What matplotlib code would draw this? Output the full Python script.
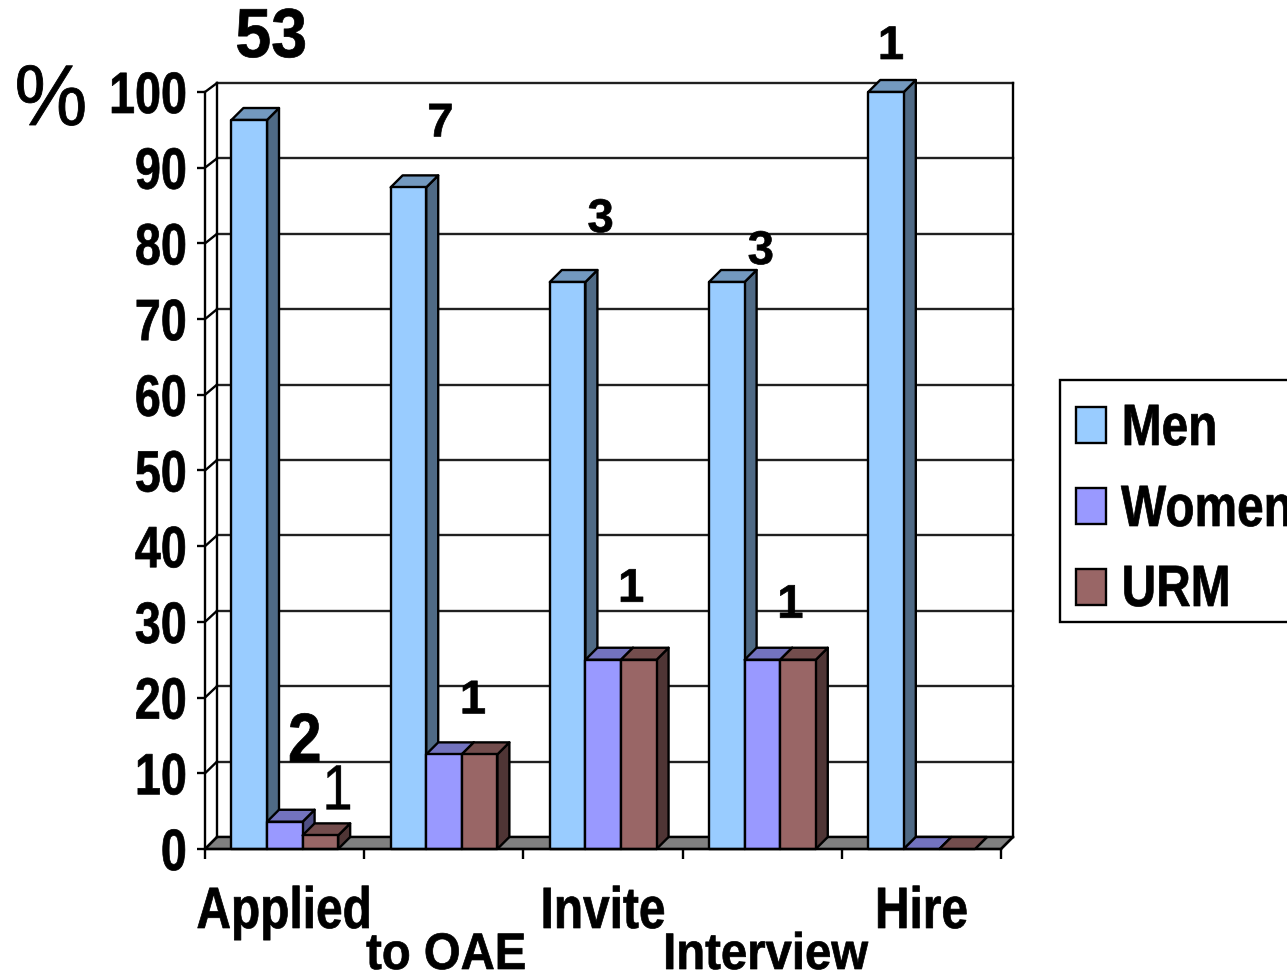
import matplotlib
matplotlib.use("Agg")
import matplotlib.pyplot as plt
from matplotlib.patches import Polygon, Rectangle
from matplotlib.patheffects import AbstractPathEffect
from matplotlib.transforms import Affine2D, blended_transform_factory

plt.rcParams['font.family'] = ['Liberation Sans', 'DejaVu Sans']

stages = ["Applied", "to OAE", "Invite", "Interview", "Hire"]
series_names = ["Men", "Women", "URM"]
men = [96.3, 87.4, 74.9, 74.9, 100]
women = [3.6, 12.5, 25, 25, 0]
urm = [1.8, 12.5, 25, 25, 0]

# head counts printed above the bars
men_counts = ["53", "7", "3", "3", "1"]
women_counts = ["2", "1", "1", "1", None]
urm_counts = ["1", None, None, None, None]

W, H = 1287, 971
X0, X1, Y0, Y100 = 205, 1001, 849, 92
LW = 1.7

# front, top and side colours for each series
faces = {
    "Men": ("#99CCFF", "#7399BF", "#4F6A85"),
    "Women": ("#9999FF", "#7373BF", "#4F4F85"),
    "URM": ("#996666", "#734D4D", "#4F3535"),
}


class Narrow(AbstractPathEffect):
    """Squeeze the glyphs of a text horizontally, there is no condensed font here"""

    def __init__(self, sx, anchor="center", stroke=0.5):
        super().__init__()
        self.sx = sx
        self.anchor = anchor
        self.stroke = stroke

    def draw_path(self, renderer, gc, tpath, affine, rgbFace=None):
        box = affine.transform_path(tpath).get_extents()
        cx = {"left": box.x0, "center": (box.x0 + box.x1) / 2, "right": box.x1}[self.anchor]
        squeeze = Affine2D().translate(-cx, 0).scale(self.sx, 1).translate(cx, 0)
        gc0 = renderer.new_gc()
        gc0.copy_properties(gc)
        gc0.set_foreground("black")
        gc0.set_linewidth(self.stroke)
        renderer.draw_path(gc0, tpath, affine + squeeze, rgbFace)
        gc0.restore()


def fig_x(px):
    return px / W


def fig_y(py):
    return 1 - py / H


fig = plt.figure(figsize=(W / 100, H / 100), dpi=100)
ax = fig.add_axes([fig_x(X0), fig_y(Y0), (X1 - X0) / W, (Y0 - Y100) / H])
ax.set_xlim(0, 5)
ax.set_ylim(0, 100)
for s in ["top", "right"]:
    ax.spines[s].set_visible(False)
for s in ["left", "bottom"]:
    ax.spines[s].set_linewidth(LW)
    ax.spines[s].set_zorder(6)
ax.patch.set_alpha(0)

# depth of the fake 3d box, in data units
dx = 12 / ((X1 - X0) / 5)
dy = 12 / ((Y0 - Y100) / 100)
bar_w = 0.2235
bar_start = 0.166


def wall_y(v):
    # the back wall is slightly shorter than the front axis
    return v * 0.996 + dy


# floor
ax.add_patch(Polygon([(0, 0), (5, 0), (5 + dx, dy), (dx, dy)], closed=True,
                     fc="#808080", ec="black", lw=LW, zorder=1, clip_on=False))

# gridlines, wall corners and outer frame
for v in range(0, 101, 10):
    ax.plot([dx, 5 + dx], [wall_y(v), wall_y(v)], color="#202020", lw=LW, zorder=0, clip_on=False)
    ax.plot([0, dx], [v, wall_y(v)], color="black", lw=LW, zorder=1, clip_on=False)
ax.plot([dx, dx], [dy, wall_y(100)], color="black", lw=LW, zorder=1, clip_on=False)
ax.plot([5 + dx, 5 + dx], [dy, wall_y(100)], color="black", lw=LW, zorder=1, clip_on=False)
ax.plot([5, 5 + dx], [0, dy], color="black", lw=LW, zorder=1, clip_on=False)


def draw_bar(x, val, name, z):
    front, top, side = faces[name]
    r = x + bar_w
    kw = dict(closed=True, ec="black", lw=LW, zorder=z, clip_on=False, joinstyle="round")
    ax.add_patch(Polygon([(r, 0), (r + dx, dy), (r + dx, val + dy), (r, val)], fc=side, **kw))
    ax.add_patch(Polygon([(x, val), (r, val), (r + dx, val + dy), (x + dx, val + dy)], fc=top, **kw))
    if val > 0:
        ax.add_patch(Polygon([(x, 0), (r, 0), (r, val), (x, val)], fc=front, **kw))


for i in range(len(stages)):
    for j, (name, vals) in enumerate(zip(series_names, [men, women, urm])):
        draw_bar(i + bar_start + j * bar_w, vals[i], name, 2 + j)

# axis ticks
ax.set_yticks(range(0, 101, 10))
ax.set_xticks(range(6))
ax.set_xticklabels([])
ax.tick_params(axis="y", length=5.8, width=LW, pad=7, labelsize=42)
ax.tick_params(axis="x", length=7, width=LW)
for t in ax.get_yticklabels():
    t.set_fontweight("bold")
    t.set_path_effects([Narrow(0.8, "right")])

# stage labels sit on two staggered rows, the lower row is a bit shorter to fit the edge
trans = blended_transform_factory(ax.transData, fig.transFigure)
label_x = [0.5, 1.515, 2.5, 3.52, 4.5]
label_row = [928, 969, 928, 969, 928]
label_size = [42, 37, 42, 37, 42]
label_squeeze = [0.82, 0.92, 0.82, 0.92, 0.82]
for s, x, row, size, sq in zip(stages, label_x, label_row, label_size, label_squeeze):
    t = ax.text(x, fig_y(row), s, transform=trans, ha="center", va="baseline",
                fontsize=size, fontweight="bold", clip_on=False)
    t.set_path_effects([Narrow(sq)])


def put_counts(counts, vals, idx, offsets, sizes, squeeze, weight="bold"):
    for i, c in enumerate(counts):
        if c is None:
            continue
        x = i + bar_start + (idx + 0.5) * bar_w
        t = ax.annotate(c, xy=(x, vals[i]), xytext=(offsets[i][0] * 0.72, offsets[i][1] * 0.72),
                        textcoords="offset points", ha="center", va="center",
                        fontsize=sizes[i], fontweight=weight, annotation_clip=False, zorder=8)
        t.set_path_effects([Narrow(squeeze[i], stroke=0.5 if weight == "bold" else 0.3)])


put_counts(men_counts, men, 0, [(22, 81), (32, 63), (33, 62), (34, 30), (5, 45)],
           [50, 34, 34, 34, 34], [0.93, 1, 1, 1, 1])
put_counts(women_counts, women, 1, [(20, 78), (29, 53), (28, 70), (28, 54), None],
           [50, 34, 34, 34, 34], [0.87, 1, 1, 1, 1])
put_counts(urm_counts, urm, 2, [(17, 43), None, None, None, None], [46] * 5, [0.85] * 5, weight="normal")

pct = fig.text(fig_x(51), fig_y(103), "%", ha="center", va="center", fontsize=62)
pct.set_path_effects([Narrow(0.95, stroke=0.6)])

# legend box runs off the right edge of the figure
fig.add_artist(Rectangle((fig_x(1060), fig_y(622)), 300 / W, 242 / H, fc="white", ec="black",
                         lw=LW, transform=fig.transFigure))
for name, top_px, base in zip(series_names, [407, 488, 569], [445, 526, 606]):
    fig.add_artist(Rectangle((fig_x(1076), fig_y(top_px + 36)), 30 / W, 36 / H, fc=faces[name][0],
                             ec="black", lw=LW, transform=fig.transFigure))
    t = fig.text(fig_x(1121), fig_y(base), name, ha="left", va="baseline", fontsize=42, fontweight="bold")
    t.set_path_effects([Narrow(0.82, "left")])

fig.savefig("out.png", dpi=100)
